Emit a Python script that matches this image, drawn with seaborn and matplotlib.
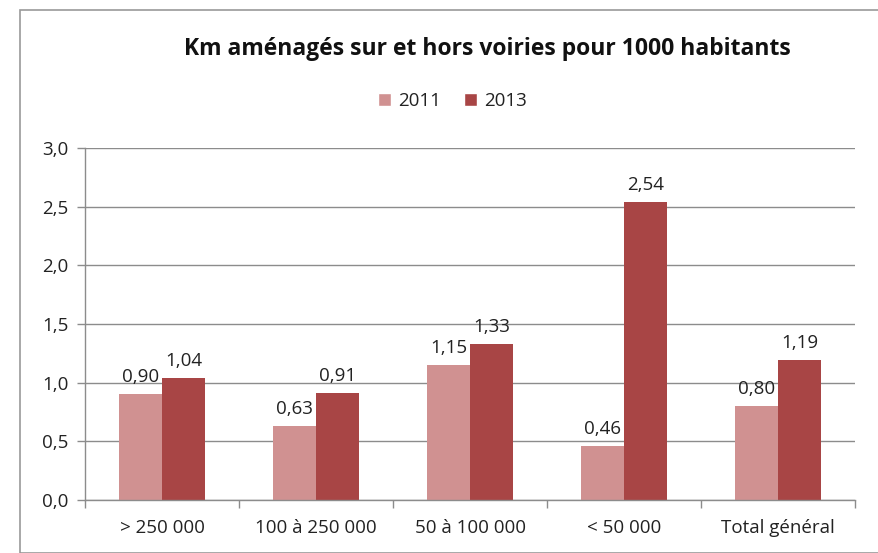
import matplotlib.pyplot as plt
import matplotlib.patches as mpatches
from matplotlib.ticker import FuncFormatter, MultipleLocator, FixedLocator
import numpy as np
import pandas as pd
import seaborn as sns

categories = ["> 250 000", "100 à 250 000", "50 à 100 000", "< 50 000", "Total général"]
years = ["2011", "2013"]
values_2011 = [0.90, 0.63, 1.15, 0.46, 0.80]
values_2013 = [1.04, 0.91, 1.33, 2.54, 1.19]

palette = {"2011": "#D09191", "2013": "#A84545"}

df = pd.DataFrame({
    "categorie": categories * 2,
    "annee": ["2011"] * len(categories) + ["2013"] * len(categories),
    "valeur": values_2011 + values_2013,
})

sns.set_style("white")
plt.rcParams["font.family"] = ["Open Sans", "DejaVu Sans"]

fig = plt.figure(figsize=(8.79, 5.53), dpi=100)
ax = fig.add_axes([0.0967, 0.0958, 0.876, 0.6366])

sns.barplot(data=df, x="categorie", y="valeur", hue="annee", hue_order=years,
            palette=palette, width=0.56, saturation=1, linewidth=0, ax=ax, legend=False)

for cont in ax.containers:
    ax.bar_label(cont, labels=[f"{v:.2f}".replace(".", ",") for v in cont.datavalues],
                 padding=6, fontsize=13.5, color="#222222")

ax.set_ylim(0, 3.0)
ax.set_xlim(-0.5, len(categories) - 0.5)
ax.yaxis.set_major_locator(MultipleLocator(0.5))
ax.yaxis.set_major_formatter(FuncFormatter(lambda v, p: f"{v:.1f}".replace(".", ",")))
ax.grid(axis="y", color="#8c8c8c", linewidth=1)
ax.set_axisbelow(True)
ax.set_xlabel("")
ax.set_ylabel("")

for side in ["top", "right"]:
    ax.spines[side].set_visible(False)
for side in ["left", "bottom"]:
    ax.spines[side].set_color("#8c8c8c")
    ax.spines[side].set_linewidth(1)

ax.tick_params(axis="y", left=True, length=6, width=1, color="#8c8c8c",
               labelsize=13.5, labelcolor="#222222", pad=6)
ax.tick_params(axis="x", which="major", length=0, labelsize=13.5, labelcolor="#222222", pad=14)
ax.xaxis.set_minor_locator(FixedLocator(np.arange(-0.5, len(categories), 1.0)))
ax.tick_params(axis="x", which="minor", bottom=True, length=6, width=1, color="#8c8c8c")

fig.text(0.555, 0.912, "Km aménagés sur et hors voiries pour 1000 habitants",
         ha="center", va="center", fontsize=16.5, fontweight="bold", color="#111111")

handles = [mpatches.Patch(facecolor=palette[y], label=y) for y in years]
fig.legend(handles=handles, loc="center", bbox_to_anchor=(0.515, 0.818), ncol=2,
           frameon=False, fontsize=13.5, handlelength=0.7, handleheight=0.7,
           handletextpad=0.4, columnspacing=1.2, labelcolor="#222222")

fig.patches.append(mpatches.Rectangle((20 / 879, 0), 1.0, 1 - 10 / 553,
                                      transform=fig.transFigure, fill=False,
                                      edgecolor="#9a9a9a", linewidth=1.2))

fig.savefig("out.png", dpi=100)
